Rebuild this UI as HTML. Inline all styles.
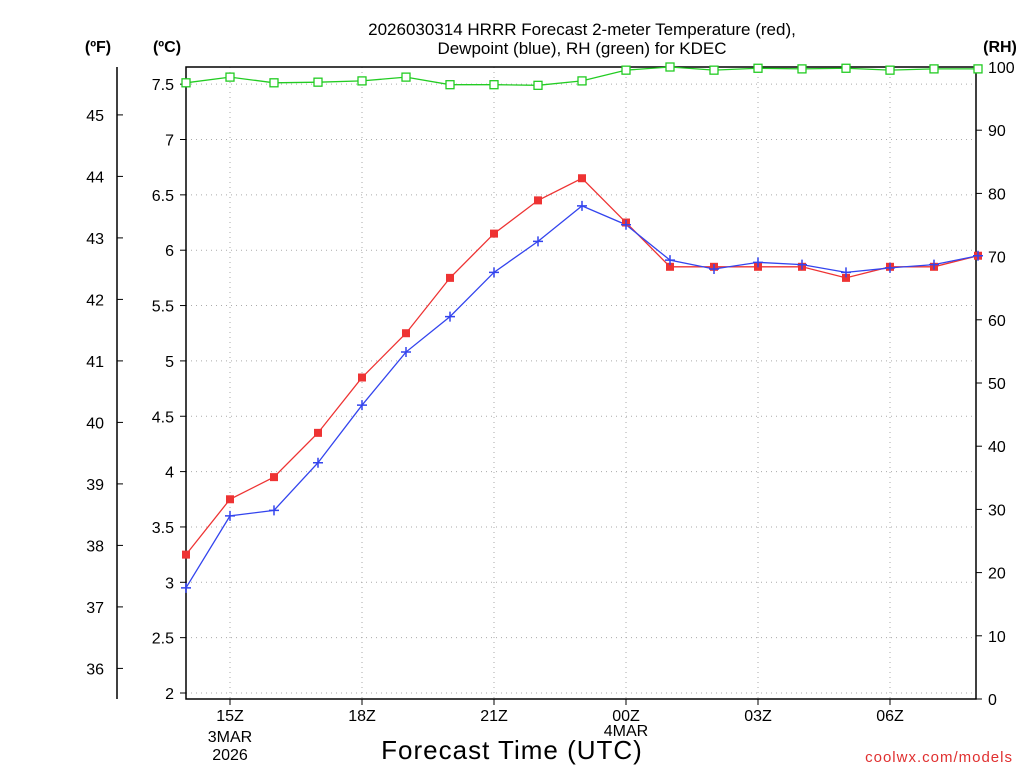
<!DOCTYPE html>
<html><head><meta charset="utf-8"><style>
body{margin:0;background:#fff;}
svg text{font-family:"Liberation Sans",sans-serif;}
</style></head><body>
<svg id="chart" width="1024" height="768" xmlns="http://www.w3.org/2000/svg">
<text x="582" y="35" font-size="17" text-anchor="middle">2026030314 HRRR Forecast 2-meter Temperature (red),</text>
<text x="582" y="54" font-size="17" text-anchor="middle">Dewpoint (blue), RH (green) for KDEC</text>
<text x="98" y="52" font-size="16" font-weight="bold" text-anchor="middle">(ºF)</text>
<text x="167" y="52" font-size="16" font-weight="bold" text-anchor="middle">(ºC)</text>
<text x="1000" y="52" font-size="16" font-weight="bold" text-anchor="middle">(RH)</text>
<text x="512" y="759" font-size="26" text-anchor="middle" letter-spacing="1">Forecast Time (UTC)</text>
<text x="1013" y="762" font-size="15" fill="#e03030" text-anchor="end" letter-spacing="1">coolwx.com/models</text>
<g id="grid"></g><g id="axes"></g><g id="series"></g>
</svg>
<script>
const hours = ["14","15","16","17","18","19","20","21","22","23","00","01","02","03","04","05","06","07","08"];
const tempC = [3.25,3.75,3.95,4.35,4.85,5.25,5.75,6.15,6.45,6.65,6.25,5.85,5.85,5.85,5.85,5.75,5.85,5.85,5.95];
const dewC = [2.95,3.6,3.65,4.08,4.6,5.08,5.4,5.8,6.08,6.4,6.23,5.91,5.83,5.89,5.87,5.8,5.84,5.87,5.95];
const rh = [97.5,98.4,97.5,97.6,97.8,98.4,97.2,97.2,97.1,97.8,99.5,100,99.5,99.8,99.7,99.8,99.5,99.7,99.7];
const cTicks = [2,2.5,3,3.5,4,4.5,5,5.5,6,6.5,7,7.5];
const fTicks = [36,37,38,39,40,41,42,43,44,45];
const rhTicks = [0,10,20,30,40,50,60,70,80,90,100];
const xLabels = [{i:1,t:"15Z"},{i:4,t:"18Z"},{i:7,t:"21Z"},{i:10,t:"00Z"},{i:13,t:"03Z"},{i:16,t:"06Z"}];
const L=186,R=976,T=67,B=699;
const NS="http://www.w3.org/2000/svg";
const xs=i=>186+i*44;
const yC=c=>693-(c-2)*110.7;
const yF=f=>yC((f-32)*5/9);
const yRH=r=>699-r*6.32;
function mk(tag,attrs,parent,text){const e=document.createElementNS(NS,tag);for(const k in attrs)e.setAttribute(k,attrs[k]);if(text!==undefined)e.textContent=text;document.getElementById(parent).appendChild(e);return e;}
cTicks.forEach(c=>{const e=mk("line",{x1:L,x2:R,y1:yC(c),y2:yC(c),stroke:"#aaa","stroke-dasharray":"1,4"},"grid");

});
xLabels.forEach(o=>{const e=mk("line",{x1:xs(o.i),x2:xs(o.i),y1:T,y2:B,stroke:"#aaa","stroke-dasharray":"1,4"},"grid");

});
const fr=mk("rect",{x:L,y:T,width:R-L,height:B-T,fill:"none",stroke:"#000","stroke-width":1.5},"axes");


const fl=mk("line",{x1:117,x2:117,y1:T,y2:B,stroke:"#000","stroke-width":1.5},"axes");


cTicks.forEach(c=>{const y=yC(c);mk("line",{x1:L-6,x2:L,y1:y,y2:y,stroke:"#000"},"axes");
const t=mk("text",{x:L-12,y:y+6,"font-size":16,"text-anchor":"end"},"axes",String(c));

});
fTicks.forEach(f=>{const y=yF(f);mk("line",{x1:117,x2:123,y1:y,y2:y,stroke:"#000"},"axes");
const t=mk("text",{x:104,y:y+6,"font-size":16,"text-anchor":"end"},"axes",String(f));

});
rhTicks.forEach(r=>{const y=yRH(r);mk("line",{x1:R,x2:R+6,y1:y,y2:y,stroke:"#000"},"axes");
const t=mk("text",{x:988,y:y+6,"font-size":16},"axes",String(r));

});
xLabels.forEach(o=>{const x=xs(o.i);mk("line",{x1:x,x2:x,y1:B,y2:B+6,stroke:"#000"},"axes");
const t=mk("text",{x:x,y:721,"font-size":16,"text-anchor":"middle"},"axes",o.t);

});
[["3MAR",xs(1),742],["2026",xs(1),760],["4MAR",xs(10),736]].forEach(a=>{const t=mk("text",{x:a[1],y:a[2],"font-size":16,"text-anchor":"middle"},"axes",a[0]);

});
function line(vals,yf,color,name){const p=mk("polyline",{points:vals.map((v,i)=>xs(i)+","+yf(v)).join(" "),fill:"none",stroke:color,"stroke-width":1.3},"series");

}
line(rh,yRH,"#22cc22","rh-line");
line(tempC,yC,"#ee3333","temperature-line");
line(dewC,yC,"#3344ee","dewpoint-line");
rh.forEach((v,i)=>{const m=mk("rect",{x:xs(i)-4,y:yRH(v)-4,width:8,height:8,fill:"#fff",stroke:"#22cc22","stroke-width":1.3},"series");

});
tempC.forEach((v,i)=>{const m=mk("rect",{x:xs(i)-4,y:yC(v)-4,width:8,height:8,fill:"#ee3333"},"series");

});
dewC.forEach((v,i)=>{const x=xs(i),y=yC(v);const m=mk("path",{d:`M${x-5},${y}H${x+5}M${x},${y-5}V${y+5}`,stroke:"#3344ee","stroke-width":1.5},"series");

});
</script>
</body></html>
